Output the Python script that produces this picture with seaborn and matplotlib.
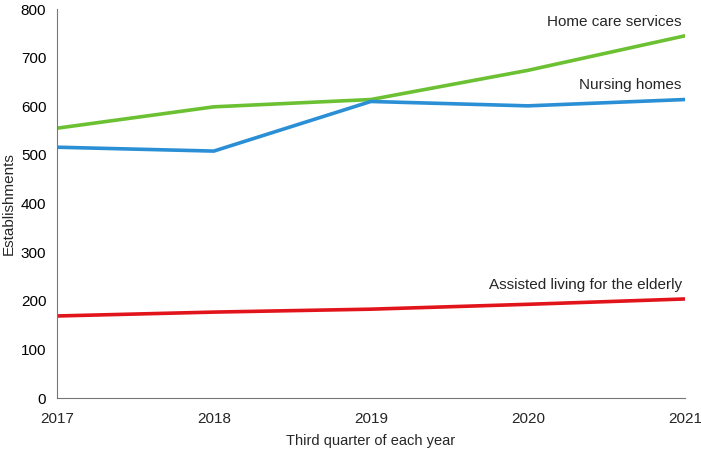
import matplotlib
matplotlib.use("Agg")
import matplotlib.pyplot as plt
import pandas as pd
import seaborn as sns

years = [2017, 2018, 2019, 2020, 2021]
home_care = [555, 599, 614, 674, 745]
nursing = [516, 508, 610, 601, 614]
assisted = [169, 177, 183, 193, 204]

series_names = ["Home care services", "Nursing homes", "Assisted living for the elderly"]
series_colors = ["#6cc133", "#2b8fd6", "#e2141b"]

df = pd.DataFrame({
    "year": years * 3,
    "value": home_care + nursing + assisted,
    "series": [series_names[0]] * 5 + [series_names[1]] * 5 + [series_names[2]] * 5,
})

sns.set_style("white")
plt.rcParams["font.family"] = ["Liberation Sans", "DejaVu Sans"]

fig = plt.figure(figsize=(7.01, 4.53), dpi=100)
ax = fig.add_axes([0.081, 0.121, 0.896, 0.859])

sns.lineplot(data=df, x="year", y="value", hue="series", palette=series_colors,
             linewidth=2.6, legend=False, ax=ax)

ax.set_xlim(2017, 2021)
ax.set_ylim(0, 800)
ax.set_xticks(years)
ax.set_xticklabels([str(y) for y in years], fontsize=11)
ax.set_yticks(range(0, 801, 100))
ax.tick_params(axis="y", labelsize=11, colors="#000000")
ax.tick_params(axis="x", direction="out", length=5, pad=5, color="#777777", width=0.8)
ax.tick_params(axis="y", direction="out", length=4, color="#999999", width=0.8)
ax.set_xlabel("Third quarter of each year", fontsize=10.5, labelpad=6)
ax.set_ylabel("Establishments", fontsize=11, labelpad=4)

for side in ["top", "right"]:
    ax.spines[side].set_visible(False)
for side in ["left", "bottom"]:
    ax.spines[side].set_color("#777777")
    ax.spines[side].set_linewidth(0.8)

ax.text(2020.98, home_care[-1] + 15, series_names[0], ha="right", va="bottom", fontsize=11)
ax.text(2020.98, nursing[-1] + 15, series_names[1], ha="right", va="bottom", fontsize=11)
ax.text(2020.98, assisted[-1] + 15, series_names[2], ha="right", va="bottom", fontsize=11)

fig.savefig("out.png", dpi=100)
